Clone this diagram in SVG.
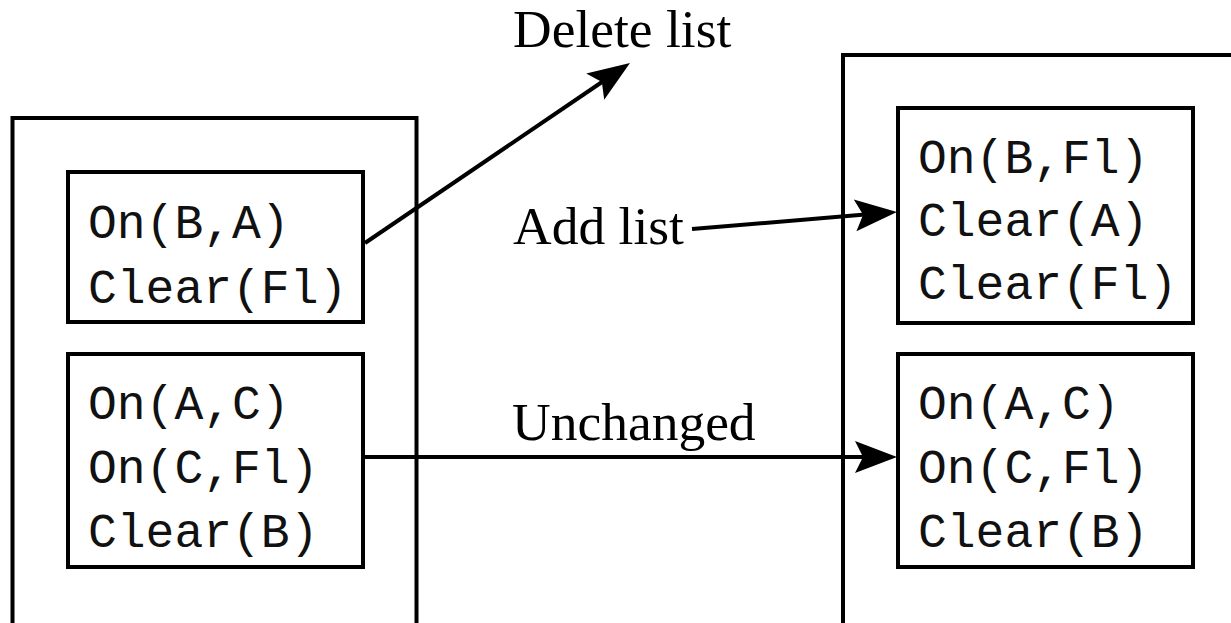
<svg xmlns="http://www.w3.org/2000/svg" width="1231" height="623" viewBox="0 0 1231 623">
<style>
.box{fill:none;stroke:#000;stroke-width:4}
.mono{font-family:"Liberation Mono","Courier New",monospace;font-size:48px;fill:#111}
.lbl{font-family:"Liberation Serif","Times New Roman",serif;font-size:53.5px;fill:#000}
.con{fill:none;stroke:#000;stroke-width:4}
</style>
<defs>
<marker id="ah" markerUnits="userSpaceOnUse" markerWidth="44" markerHeight="34" refX="10" refY="16" orient="auto" overflow="visible">
<path d="M0,0 L42,16 L0,32 L8,16 Z" fill="#000"/>
</marker>
</defs>
<rect width="1231" height="623" fill="#fff"/>
<g id="state-before">
<rect class="box" x="12.5" y="118" width="404" height="520"/>
</g>
<g id="state-after">
<rect class="box" x="843" y="55" width="420" height="600"/>
</g>
<g id="before-deleted">
<rect class="box" x="68" y="172" width="295" height="150"/>
<text class="mono" x="88" y="238">On(B,A)</text>
<text class="mono" x="88" y="303">Clear(Fl)</text>
</g>
<g id="before-unchanged">
<rect class="box" x="68" y="354" width="295" height="213"/>
<text class="mono" x="88" y="419">On(A,C)</text>
<text class="mono" x="88" y="483">On(C,Fl)</text>
<text class="mono" x="88" y="547">Clear(B)</text>
</g>
<g id="after-added">
<rect class="box" x="898" y="108" width="295" height="215"/>
<text class="mono" x="918" y="173">On(B,Fl)</text>
<text class="mono" x="918" y="236">Clear(A)</text>
<text class="mono" x="918" y="299">Clear(Fl)</text>
</g>
<g id="after-unchanged">
<rect class="box" x="898" y="354" width="295" height="213"/>
<text class="mono" x="918" y="419">On(A,C)</text>
<text class="mono" x="918" y="483">On(C,Fl)</text>
<text class="mono" x="918" y="547">Clear(B)</text>
</g>
<g id="connectors">
<line class="con" x1="365" y1="243" x2="603.5" y2="81" marker-end="url(#ah)"/>
<line class="con" x1="692" y1="229" x2="865.1" y2="214.6" marker-end="url(#ah)"/>
<line class="con" x1="363" y1="457" x2="865" y2="457" marker-end="url(#ah)"/>
</g>
<g id="labels">
<text class="lbl" x="513" y="47">Delete list</text>
<text class="lbl" x="513" y="244">Add list</text>
<text class="lbl" x="512" y="440">Unchanged</text>
</g>
</svg>
